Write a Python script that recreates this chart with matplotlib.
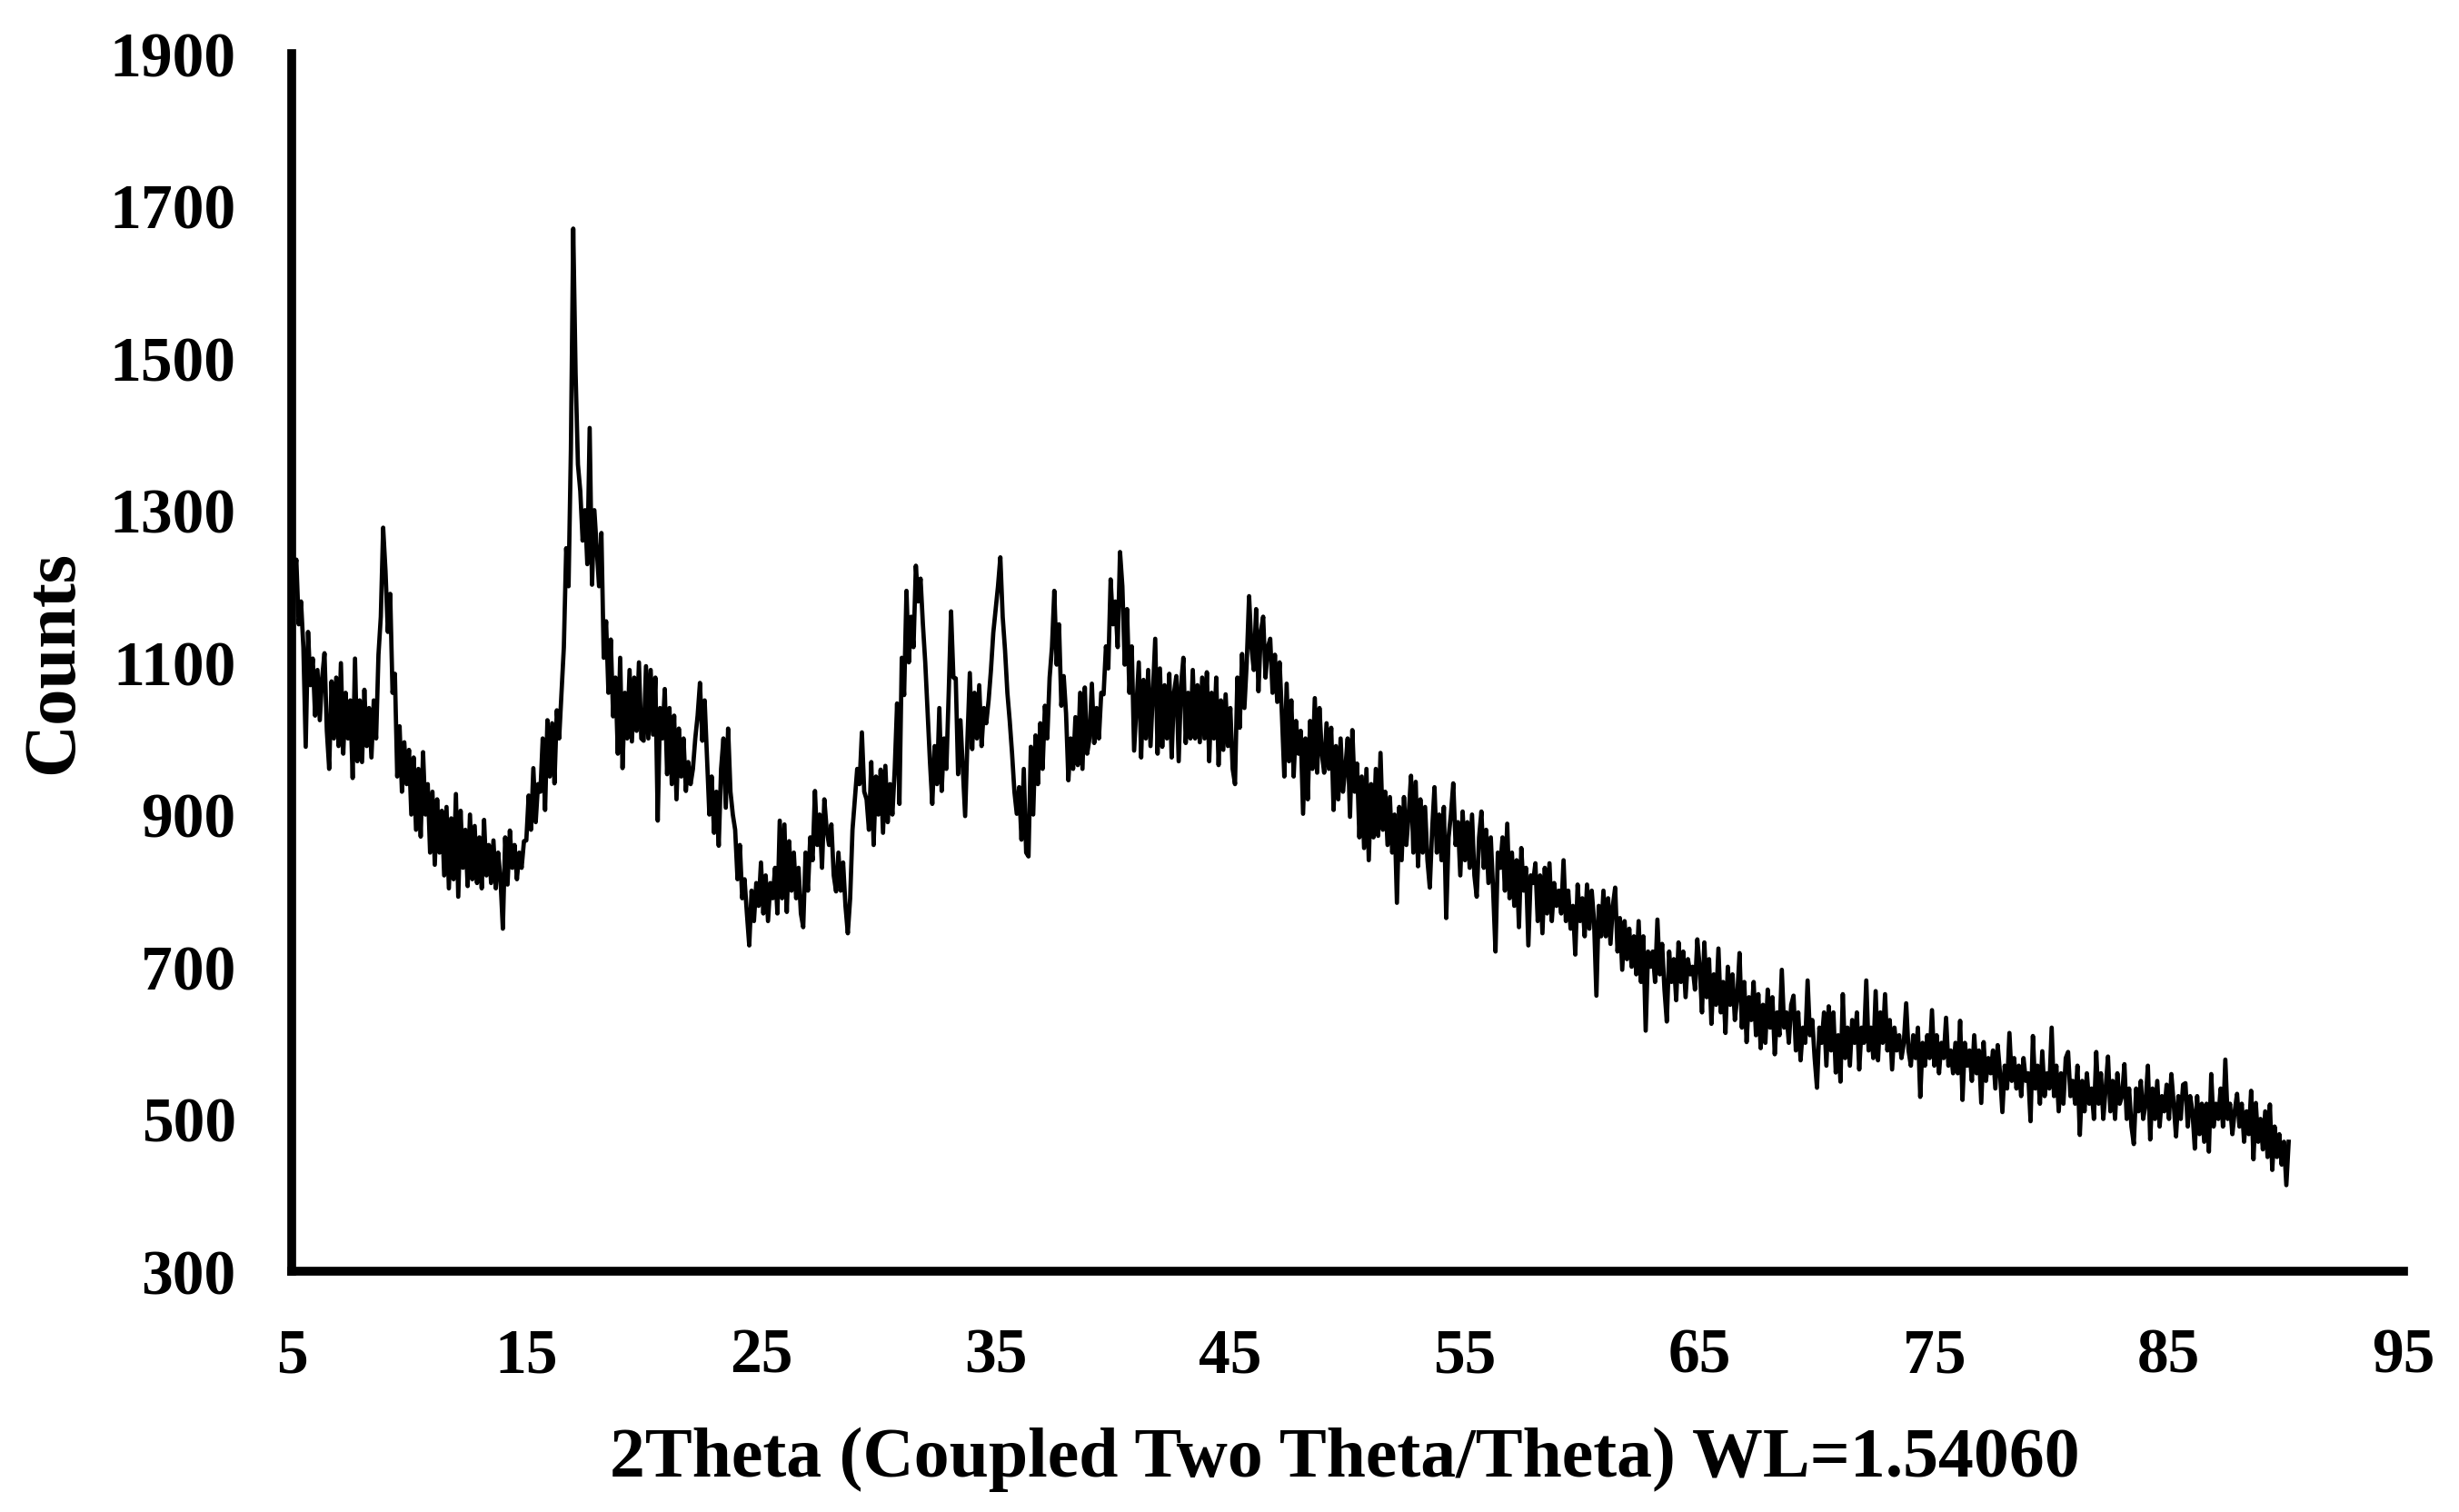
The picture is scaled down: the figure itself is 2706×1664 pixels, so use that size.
"""
plot.py

XRD pattern (Counts vs 2Theta), redrawn from a scanned figure.
"""

import matplotlib
matplotlib.use("Agg")
import matplotlib.pyplot as plt
import numpy as np

# scan grid of the diffractometer
two_theta_start = 5.0
two_theta_step = 0.1

# counts, one row per degree (x.0 ... x.9)
counts_05_20 = [
    1255, 1210, 1235, 1150, 1180, 1120, 989, 1140, 1070, 1105,
    1030, 1090, 1024, 1080, 1112, 1010, 960, 1075, 1000, 1080,
    990, 1099, 980, 1060, 1000, 1050, 948, 1105, 970, 1050,
    969, 1064, 990, 1040, 975, 1050, 1000, 1110, 1160, 1277,
    1220, 1140, 1190, 1060, 1085, 950, 1016, 930, 995, 940,
    985, 900, 975, 880, 960, 871, 982, 900, 940, 850,
    930, 834, 920, 850, 905, 820, 910, 803, 895, 815,
    927, 792, 905, 830, 880, 806, 900, 815, 885, 810,
    870, 803, 893, 820, 860, 810, 866, 803, 850, 815,
    750, 870, 808, 879, 830, 860, 815, 850, 830, 865,
    866, 925, 880, 961, 890, 940, 930, 1000, 906, 1024,
    950, 1020, 941, 1037, 1000, 1060, 1120, 1250, 1200, 1380,
    1670, 1480, 1360, 1325, 1260, 1300, 1229, 1408, 1202, 1300,
    1250, 1200, 1270, 1106, 1154, 1060, 1130, 1029, 1080, 980,
    1106, 961, 1060, 1000, 1090, 996, 1080, 1010, 1100, 1000,
]
counts_20_35 = [
    997, 1095, 1000, 1090, 1005, 1080, 892, 1040, 1000, 1065,
    953, 1040, 940, 1030, 920, 1013, 950, 1000, 931, 969,
    940, 960, 1000, 1030, 1073, 997, 1050, 975, 900, 950,
    876, 930, 859, 960, 1000, 909, 1013, 930, 900, 880,
    815, 860, 790, 815, 770, 728, 800, 760, 810, 780,
    837, 770, 820, 760, 810, 790, 830, 770, 892, 790,
    887, 772, 865, 800, 850, 790, 830, 770, 752, 850,
    800, 870, 840, 931, 860, 900, 830, 920, 880, 860,
    887, 820, 799, 850, 800, 837, 780, 744, 790, 880,
    920, 960, 940, 1008, 930, 920, 880, 969, 860, 950,
    900, 959, 876, 964, 890, 940, 900, 960, 1046, 914,
    1106, 1057, 1194, 1100, 1160, 1120, 1227, 1180, 1210, 1150,
    1100, 1035, 970, 914, 990, 940, 1040, 931, 1000, 960,
    1060, 1167, 1080, 1079, 953, 1024, 960, 898, 1000, 1086,
    986, 1060, 1000, 1070, 990, 1040, 1020, 1050, 1090, 1139,
]
counts_35_50 = [
    1170, 1200, 1238, 1160, 1116, 1060, 1023, 980, 930, 901,
    936, 867, 960, 850, 845, 989, 900, 1004, 940, 1020,
    960, 1043, 1000, 1080, 1120, 1194, 1097, 1150, 1043, 1082,
    1033, 945, 1000, 960, 1028, 965, 1060, 960, 1067, 980,
    1000, 1072, 994, 1040, 1000, 1060, 1058, 1121, 1092, 1209,
    1150, 1180, 1120, 1245, 1200, 1097, 1170, 1060, 1121, 984,
    1043, 1100, 975, 1077, 1000, 1090, 990, 1060, 1131, 980,
    1092, 989, 1070, 1000, 1085, 975, 1060, 1082, 970, 1070,
    1106, 994, 1060, 1000, 1090, 1000, 1070, 995, 1080, 1000,
    1087, 970, 1060, 1000, 1080, 965, 1050, 985, 1058, 990,
    1040, 960, 940, 1080, 1014, 1111, 1040, 1100, 1187, 1120,
    1090, 1170, 1062, 1140, 1160, 1080, 1120, 1131, 1060, 1110,
    1048, 1100, 1030, 950, 1072, 970, 1050, 950, 1023, 980,
    1010, 901, 1000, 920, 1023, 960, 1053, 955, 1040, 980,
    955, 1020, 960, 1014, 906, 990, 920, 1000, 930, 960,
]
counts_50_65 = [
    1000, 897, 1011, 930, 967, 870, 950, 856, 960, 840,
    940, 870, 960, 872, 981, 880, 930, 860, 923, 850,
    900, 784, 910, 840, 923, 860, 900, 951, 850, 943,
    832, 920, 850, 910, 840, 804, 880, 936, 850, 900,
    840, 910, 764, 870, 900, 941, 860, 890, 820, 904,
    840, 890, 830, 900, 820, 792, 870, 904, 830, 880,
    810, 870, 800, 720, 850, 830, 870, 800, 888, 790,
    850, 780, 840, 752, 856, 800, 830, 728, 820, 810,
    836, 760, 820, 744, 830, 770, 836, 760, 810, 780,
    800, 770, 840, 760, 800, 750, 780, 716, 808, 760,
    790, 740, 808, 750, 800, 760, 662, 780, 740, 800,
    740, 790, 730, 780, 804, 720, 764, 696, 760, 710,
    750, 700, 740, 690, 760, 680, 740, 616, 720, 700,
    720, 680, 762, 690, 730, 670, 628, 720, 680, 710,
    656, 732, 680, 720, 660, 710, 690, 700, 670, 736,
]
counts_65_80 = [
    700, 640, 732, 660, 710, 625, 690, 650, 724, 640,
    680, 613, 700, 650, 690, 630, 660, 718, 620, 680,
    601, 660, 630, 680, 610, 664, 593, 650, 600, 670,
    620, 660, 585, 640, 610, 696, 620, 640, 600, 650,
    662, 590, 640, 577, 620, 600, 682, 610, 630, 580,
    541, 620, 600, 640, 570, 648, 590, 640, 561, 610,
    549, 664, 580, 620, 570, 630, 600, 640, 565, 620,
    600, 682, 590, 620, 580, 668, 577, 640, 600, 664,
    590, 630, 565, 620, 590, 610, 580, 600, 652, 590,
    570, 610, 580, 620, 529, 600, 570, 610, 580, 643,
    570, 610, 560, 600, 580, 633, 570, 590, 560, 600,
    560, 629, 525, 600, 570, 590, 550, 610, 560, 590,
    521, 601, 550, 580, 560, 590, 540, 597, 560, 509,
    570, 540, 613, 550, 580, 540, 570, 530, 580, 550,
    560, 497, 609, 540, 570, 520, 589, 530, 560, 540,
]
counts_80_90 = [
    620, 530, 570, 510, 560, 520, 580, 588, 530, 550,
    520, 570, 479, 550, 510, 560, 520, 540, 500, 588,
    520, 560, 500, 540, 582, 510, 550, 500, 560, 520,
    530, 572, 500, 540, 490, 467, 540, 510, 550, 500,
    520, 570, 473, 540, 500, 550, 490, 530, 510, 545,
    500, 559, 520, 477, 530, 500, 545, 547, 490, 530,
    510, 461, 530, 480, 520, 470, 520, 457, 559, 490,
    520, 500, 540, 490, 578, 500, 520, 480, 510, 533,
    490, 520, 470, 510, 480, 537, 447, 521, 470, 500,
    460, 510, 450, 519, 433, 490, 450, 480, 440, 470,
    413, 470,
]

x_ticks = [5, 15, 25, 35, 45, 55, 65, 75, 85, 95]
y_ticks = [300, 500, 700, 900, 1100, 1300, 1500, 1700, 1900]

counts = np.array(counts_05_20 + counts_20_35 + counts_35_50
                  + counts_50_65 + counts_65_80 + counts_80_90, dtype=float)
two_theta = two_theta_start + two_theta_step * np.arange(len(counts))

plt.rcParams["font.family"] = ["Liberation Serif", "DejaVu Serif"]
plt.rcParams["font.weight"] = "bold"

fig = plt.figure(figsize=(27.06, 16.65), dpi=100)
ax = fig.add_axes([0.1186, 0.1592, 0.8589, 0.8048])

ax.plot(two_theta, counts, color="black", linewidth=3.4)

ax.set_xlim(5, 95)
ax.set_ylim(300, 1900)
ax.set_xticks(x_ticks)
ax.set_yticks(y_ticks)
ax.tick_params(axis="both", length=0, labelsize=50)
ax.tick_params(axis="x", pad=44)
ax.tick_params(axis="y", pad=44)
for lab in ax.get_xticklabels() + ax.get_yticklabels():
    lab.set_fontweight("bold")

for side in ("top", "right"):
    ax.spines[side].set_visible(False)
for side in ("left", "bottom"):
    ax.spines[side].set_linewidth(7)
    ax.spines[side].set_color("black")

fig.text(1480 / 2706, 1 - 1606 / 1665,
         "2Theta (Coupled Two Theta/Theta) WL=1.54060",
         ha="center", va="center", fontsize=56, fontweight="bold")
fig.text(60 / 2706, 1 - 729 / 1665, "Counts", rotation=90,
         ha="center", va="center", fontsize=58, fontweight="bold")

fig.savefig("out.png", dpi=100, facecolor="white")
